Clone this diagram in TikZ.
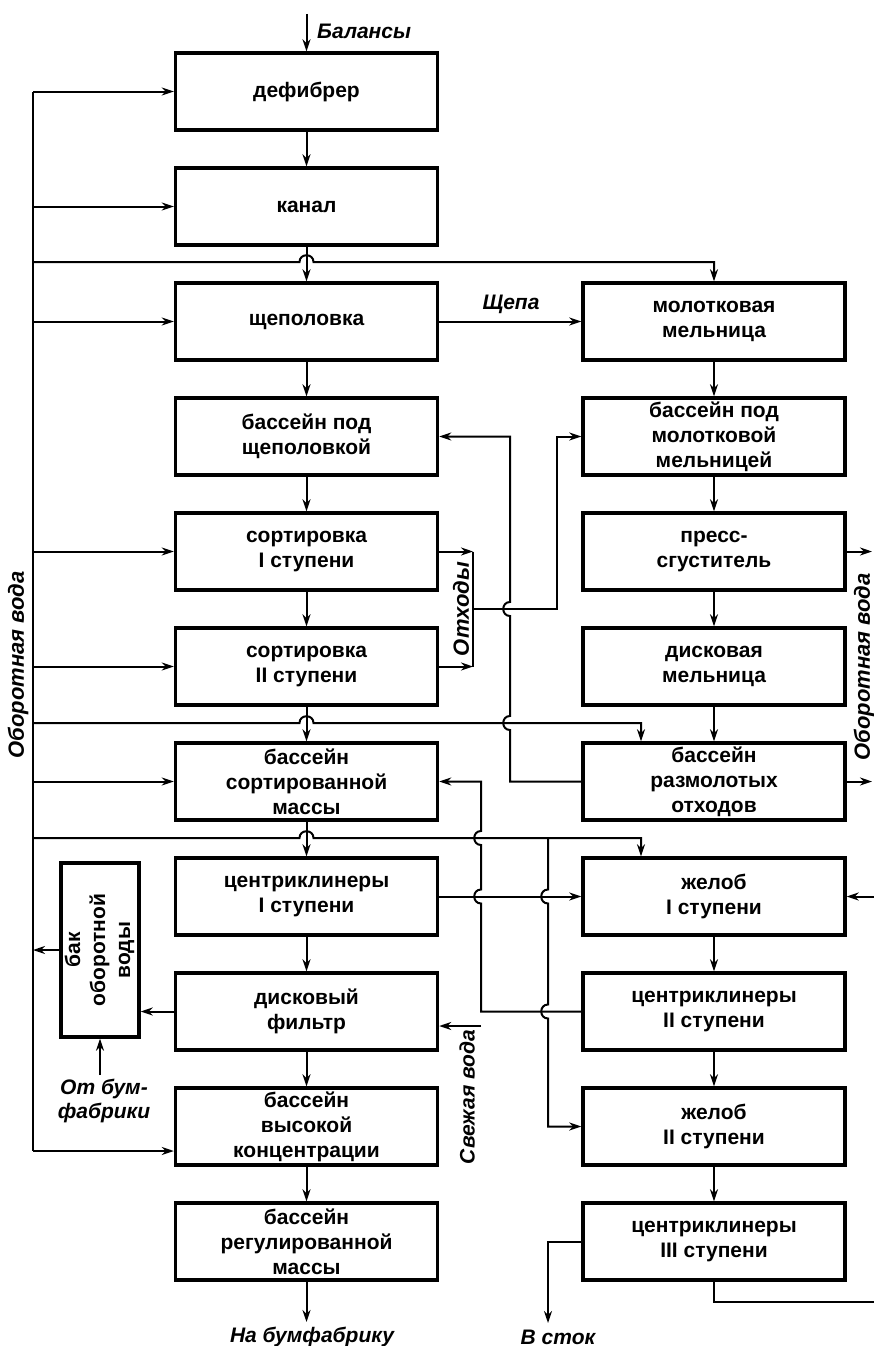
\documentclass[tikz,border=0pt]{standalone}
\usepackage{fontspec}
\setmainfont{Liberation Sans}
\usetikzlibrary{arrows.meta, positioning}
\tikzstyle{box} = [rectangle, draw=black, line width=3.4pt, minimum width=262pt, minimum height=77pt, inner sep=1pt, text centered, align=center, font=\bfseries\fontsize{21}{25}\selectfont]
\tikzstyle{line} = [line width=2pt]
\tikzstyle{arrow} = [line width=2pt, ->, >={Stealth[length=12pt,width=8pt]}]
\tikzstyle{lbl} = [inner sep=0pt, align=center, font=\bfseries\itshape\fontsize{21}{24}\selectfont]
\tikzstyle{vlbl} = [lbl, rotate=90, font=\bfseries\itshape\fontsize{22}{24}\selectfont]
\newcommand{\hopr}[2]{-- ({#1-7},#2) .. controls ({#1-7},{#2-9}) and ({#1+7},{#2-9}) .. ({#1+7},#2)}
\newcommand{\hopd}[2]{-- (#1,{#2-7}) .. controls ({#1-9},{#2-7}) and ({#1-9},{#2+7}) .. (#1,{#2+7})}
\newcommand{\hopu}[2]{-- (#1,{#2+7}) .. controls ({#1-9},{#2+7}) and ({#1-9},{#2-7}) .. (#1,{#2-7})}

\begin{document}
\begin{tikzpicture}[x=1pt, y=-1pt, node distance=34.6pt]
\useasboundingbox (0,0) rectangle (874,1346);

\node (defibrer) [box] at (306.5,91.5) {дефибрер};
\node (kanal) [box, below=of defibrer] {канал};
\node (shchep) [box, below=of kanal] {щеполовка};
\node (bassh) [box, below=of shchep] {бассейн под\\щеполовкой};
\node (sort1) [box, below=of bassh] {сортировка\\I ступени};
\node (sort2) [box, below=of sort1] {сортировка\\II ступени};
\node (bsort) [box, below=of sort2] {бассейн\\сортированной\\массы};
\node (ccl1) [box, below=of bsort] {центриклинеры\\I ступени};
\node (filtr) [box, below=of ccl1] {дисковый\\фильтр};
\node (bvys) [box, below=of filtr] {бассейн\\высокой\\концентрации};
\node (breg) [box, below=of bvys] {бассейн\\регулированной\\массы};

\node (molot) [box, right=142.1pt of shchep] {молотковая\\мельница};
\node (bmol) [box, below=of molot] {бассейн под\\молотковой\\мельницей};
\node (press) [box, below=of bmol] {пресс-\\сгуститель};
\node (dmel) [box, below=of press] {дисковая\\мельница};
\node (braz) [box, below=of dmel] {бассейн\\размолотых\\отходов};
\node (zhel1) [box, below=of braz] {желоб\\I ступени};
\node (ccl2) [box, below=of zhel1] {центриклинеры\\II ступени};
\node (zhel2) [box, below=of ccl2] {желоб\\II ступени};
\node (ccl3) [box, below=of zhel2] {центриклинеры\\III ступени};

\node (bak) [box, minimum width=78pt, minimum height=174pt] at (100,950) {\rotatebox{90}{\begin{tabular}{@{}c@{}}бак\\оборотной\\воды\end{tabular}}};

\coordinate (bal) at (306.5,14);
\coordinate (wl) at (33,0);
\coordinate (wbot) at (33,1151);
\coordinate (w1) at (33,262);
\coordinate (w2) at (33,723);
\coordinate (w3) at (33,838);
\coordinate (otx) at (473,0);
\coordinate (otm) at (473,609);
\coordinate (rec1) at (510,0);
\coordinate (rec2) at (481,0);
\coordinate (rec3) at (557,0);
\coordinate (rec4) at (548,0);
\coordinate (d2) at ([xshift=-73pt]braz.north);
\coordinate (d3) at ([xshift=-73pt]zhel1.north);
\coordinate (rim) at (872,0);
\coordinate (bot) at (874,1302);
\coordinate (svezh) at (481,1026);
\coordinate (otbum) at (100,1075);
\coordinate (nabum) at (306.5,1322);
\coordinate (vstok) at (548,1323);

\node (lbal) [lbl, anchor=west] at (317,31) {Балансы};
\node (lshch) [lbl] at (511,304) {Щепа};
\node (lotx) [vlbl] at (461,609) {Отходы};
\node (lwl) [vlbl] at (18,665) {Оборотная вода};
\node (lwr) [vlbl] at (864,667) {Оборотная вода};
\node (lsv) [vlbl, font=\bfseries\itshape\fontsize{21}{24}\selectfont] at (467,1097) {Свежая вода};
\node (lob) [lbl] at (104,1101) {От бум-\\фабрики};
\node (lnab) [lbl] at (312,1337) {На бумфабрику};
\node (lst) [lbl] at (558,1337) {В сток};

\draw [arrow] (bal) -- (defibrer);
\draw [arrow] (defibrer) -- (kanal);
\draw [arrow] (kanal) -- (shchep);
\draw [arrow] (shchep) -- (bassh);
\draw [arrow] (bassh) -- (sort1);
\draw [arrow] (sort1) -- (sort2);
\draw [arrow] (sort2) -- (bsort);
\draw [arrow] (bsort) -- (ccl1);
\draw [arrow] (ccl1) -- (filtr);
\draw [arrow] (filtr) -- (bvys);
\draw [arrow] (bvys) -- (breg);
\draw [arrow] (breg) -- (nabum);

\draw [arrow] (shchep) -- (molot);
\draw [arrow] (molot) -- (bmol);
\draw [arrow] (bmol) -- (press);
\draw [arrow] (press) -- (dmel);
\draw [arrow] (dmel) -- (braz);
\draw [arrow] (zhel1) -- (ccl2);
\draw [arrow] (ccl2) -- (zhel2);
\draw [arrow] (zhel2) -- (ccl3);

\draw [line] (wl |- defibrer) -- (wbot);
\foreach \n in {defibrer, kanal, shchep, sort1, sort2, bsort}
  \draw [arrow] (wl |- \n) -- (\n);
\draw [arrow] (wbot) -- (wbot -| bvys.west);
\draw [arrow] (w1) \hopr{306.5}{262} -- (molot |- w1) -- (molot);
\draw [arrow] (w2) \hopr{306.5}{723} -- (d2 |- w2) -- (d2);
\draw [arrow] (w3) \hopr{306.5}{838} -- (d3 |- w3) -- (d3);
\draw [arrow] (rec4 |- w3) \hopd{548}{896.5} \hopd{548}{1011.5} |- (zhel2);

\draw [arrow] (sort1) -- (otx |- sort1);
\draw [arrow] (sort2) -- (otx |- sort2);
\draw [line] (otx |- sort1) -- (otx |- sort2);
\draw [arrow] (otm) -- (rec3 |- otm) |- (bmol);
\draw [arrow] (braz) -- (rec1 |- braz) \hopu{510}{723} \hopu{510}{609} |- (bassh);
\draw [arrow] (ccl2) -- (rec2 |- ccl2) \hopu{481}{896.5} \hopu{481}{838} |- (bsort);
\draw [arrow] (ccl1) -- (zhel1);

\draw [arrow] (svezh) -- (svezh -| filtr.east);
\draw [arrow] (filtr) -- (filtr -| bak.east);
\draw [arrow] (bak) -- (wl |- bak);
\draw [arrow] (otbum) -- (bak);

\draw [arrow] (press) -- (rim |- press);
\draw [arrow] (braz) -- (rim |- braz);
\draw [arrow] (bot |- zhel1) -- (zhel1);
\draw [line] (ccl3) |- (bot);
\draw [arrow] (ccl3) -| (vstok);
\end{tikzpicture}
\end{document}
